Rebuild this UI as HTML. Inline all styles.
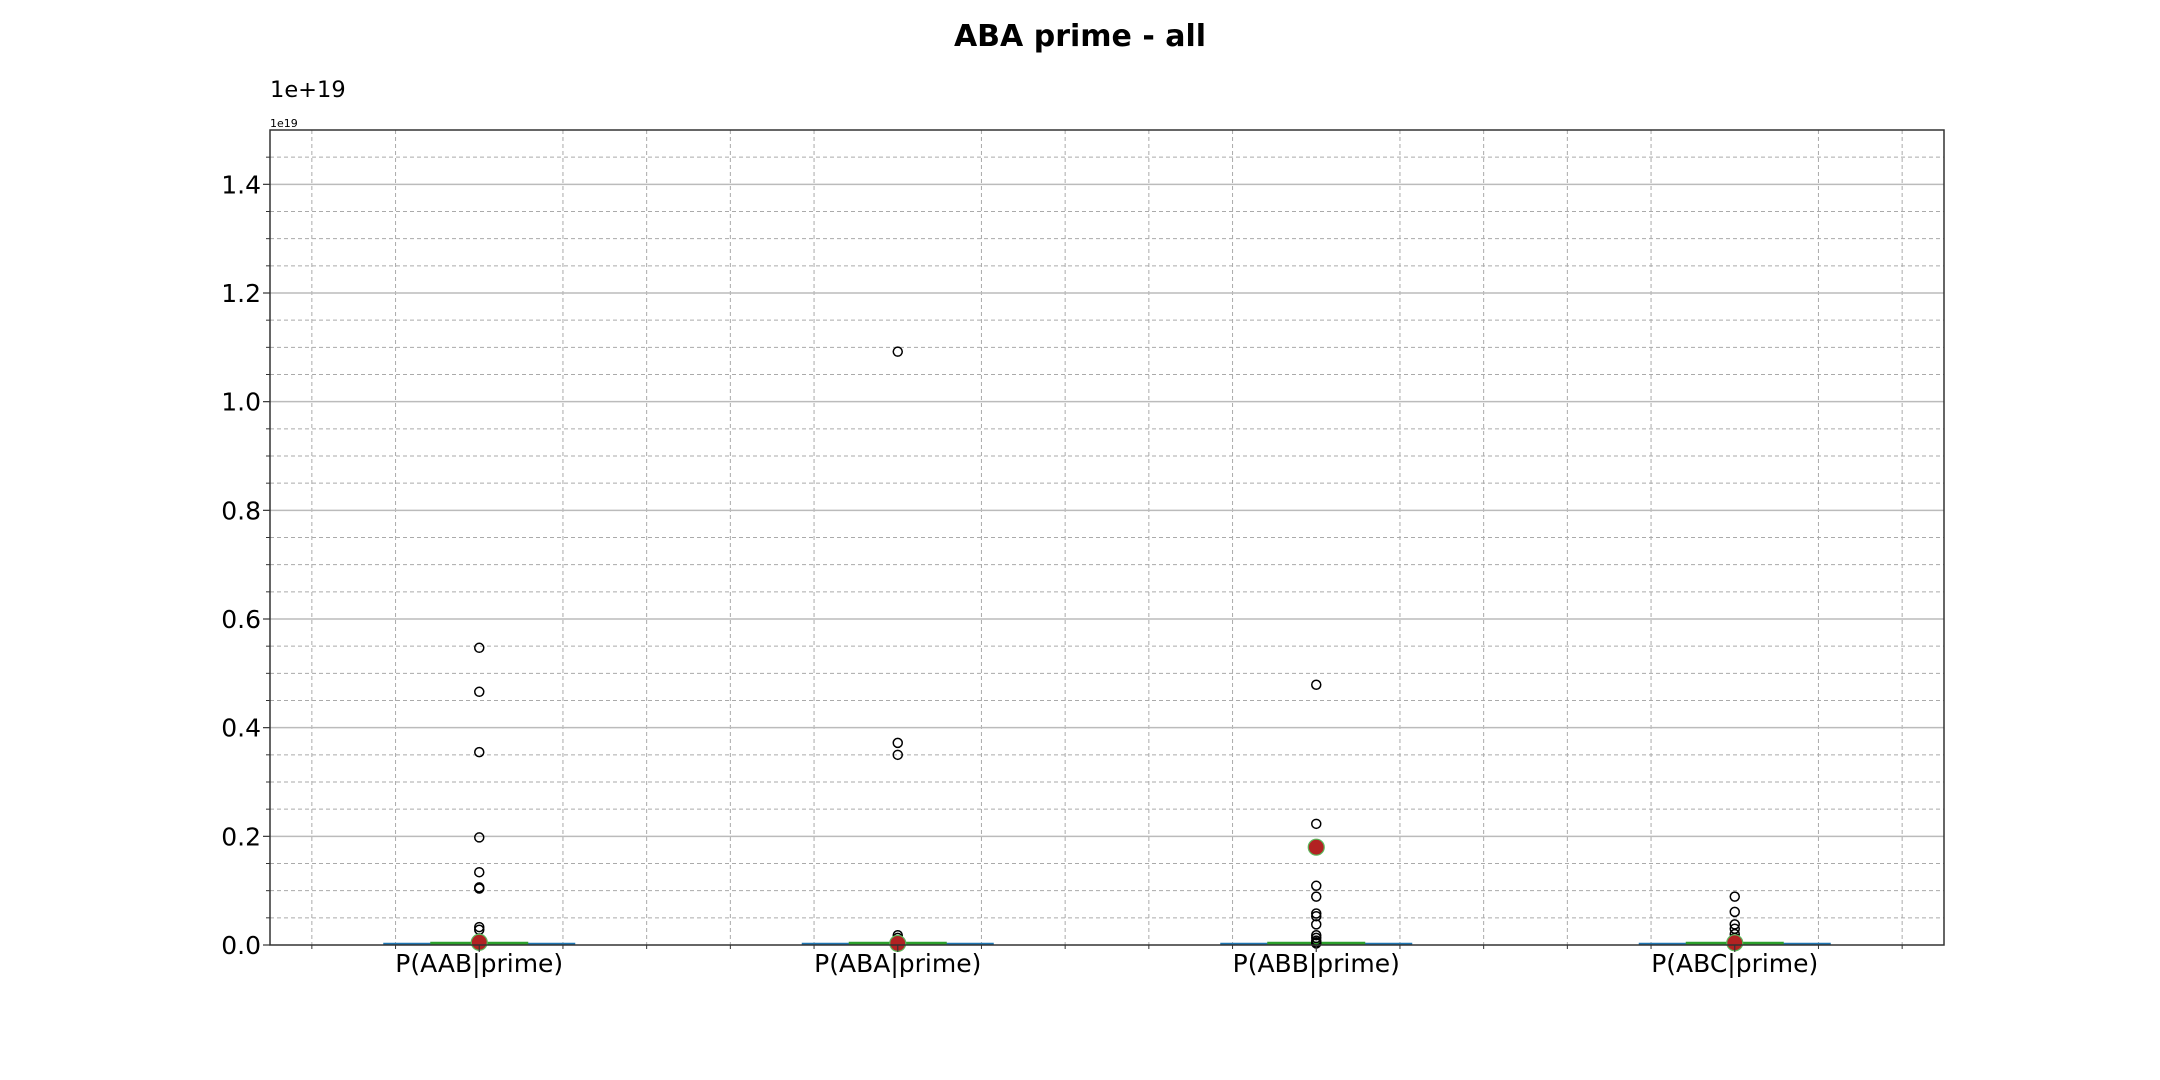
<!DOCTYPE html>
<html><head><meta charset="utf-8"><style>
html,body{margin:0;padding:0;background:#fff;}
svg{display:block;font-family:"DejaVu Sans","Liberation Sans",sans-serif;}
</style></head><body>
<svg id="chart" width="2160" height="1080" viewBox="0 0 2160 1080">
<text x="1080" y="46" text-anchor="middle" font-size="30" font-weight="bold">ABA prime - all</text>
<text x="270" y="97" font-size="22.5">1e+19</text>
<text x="270" y="127" font-size="11">1e19</text>
<g id="grid"></g>
<g id="marks"></g>
<rect x="270" y="130" width="1674" height="815" fill="none" stroke="#333" stroke-width="1.5"/>
<g id="axes"></g>
</svg>
<script>
const categories = ["P(AAB|prime)","P(ABA|prime)","P(ABB|prime)","P(ABC|prime)"];
const outliersAAB = [0.547,0.466,0.355,0.198,0.134,0.106,0.104,0.033,0.028,0.012,0.006];
const outliersABA = [1.092,0.372,0.350,0.018,0.013,0.006];
const outliersABB = [0.479,0.223,0.109,0.089,0.058,0.053,0.038,0.018,0.013,0.008,0.005,0.003];
const outliersABC = [0.089,0.061,0.038,0.030,0.020,0.013,0.008];
const means = [0.005,0.003,0.18,0.004];
const medians = [0.0005,0.0005,0.0005,0.0005];
const yTicks = [0.0,0.2,0.4,0.6,0.8,1.0,1.2,1.4];
const yTickLabels = ["0.0","0.2","0.4","0.6","0.8","1.0","1.2","1.4"];

const L=270,R=1944,T=130,B=945, yMax=1.5, xMin=0.5, xMax=4.5;
const NS="http://www.w3.org/2000/svg";
const xs=v=>L+(v-xMin)/(xMax-xMin)*(R-L);
const ys=v=>B-v/yMax*(B-T);
function mk(tag,attrs,parent){const e=document.createElementNS(NS,tag);for(const k in attrs)e.setAttribute(k,attrs[k]);parent.appendChild(e);return e;}
const grid=document.getElementById('grid'),marks=document.getElementById('marks'),axes=document.getElementById('axes');
for(let i=1;i<30;i++){const v=i*0.05;if(i%4===0)continue;
 const l=mk('line',{x1:L,x2:R,y1:ys(v),y2:ys(v),stroke:'#aaa','stroke-width':1,'stroke-dasharray':'4,3'},grid);
 
 
 const t=mk('line',{x1:L-4,x2:L,y1:ys(v),y2:ys(v),stroke:'#333','stroke-width':1},axes);
 
 }
for(let i=3;i<=22;i++){const v=i*0.2;if(i%5===0)continue;
 const l=mk('line',{x1:xs(v),x2:xs(v),y1:T,y2:B,stroke:'#aaa','stroke-width':1,'stroke-dasharray':'4,3'},grid);
 
 
 const t=mk('line',{x1:xs(v),x2:xs(v),y1:B,y2:B+4,stroke:'#333','stroke-width':1},axes);
 
 }
yTicks.forEach((v,i)=>{
 if(v>0){const l=mk('line',{x1:L,x2:R,y1:ys(v),y2:ys(v),stroke:'#bbb','stroke-width':1.5},grid);
 
 }
 const t=mk('line',{x1:L-7,x2:L,y1:ys(v),y2:ys(v),stroke:'#333','stroke-width':1.2},axes);
 
 
 const tx=mk('text',{x:L-9,y:ys(v)+9,'text-anchor':'end','font-size':25},axes);tx.textContent=yTickLabels[i];
 
 
});
const outs=[outliersAAB,outliersABA,outliersABB,outliersABC];
categories.forEach((c,i)=>{
 const cx=xs(i+1);
 const t=mk('line',{x1:cx,x2:cx,y1:B,y2:B+7,stroke:'#333','stroke-width':1.2},axes);
 
 
 const tx=mk('text',{x:cx,y:B+27,'text-anchor':'middle','font-size':25},axes);tx.textContent=c;
 
 
 const w=mk('line',{x1:cx-96,x2:cx+96,y1:B-1,y2:B-1,stroke:'#1f77b4','stroke-width':2.5},marks);
 
 
 const md=mk('line',{x1:cx-49,x2:cx+49,y1:ys(medians[i])-1.5,y2:ys(medians[i])-1.5,stroke:'#2ca02c','stroke-width':3},marks);
 
 
 outs[i].forEach(v=>{
  const o=mk('circle',{cx:cx,cy:ys(v),r:4.5,fill:'none',stroke:'#000','stroke-width':1.5},marks);
  
  
 });
 const m=mk('circle',{cx:cx,cy:ys(means[i]),r:8,fill:'#b22222',stroke:'#5cb85c','stroke-width':1.2},marks);
 
 
});
</script>
</body></html>
